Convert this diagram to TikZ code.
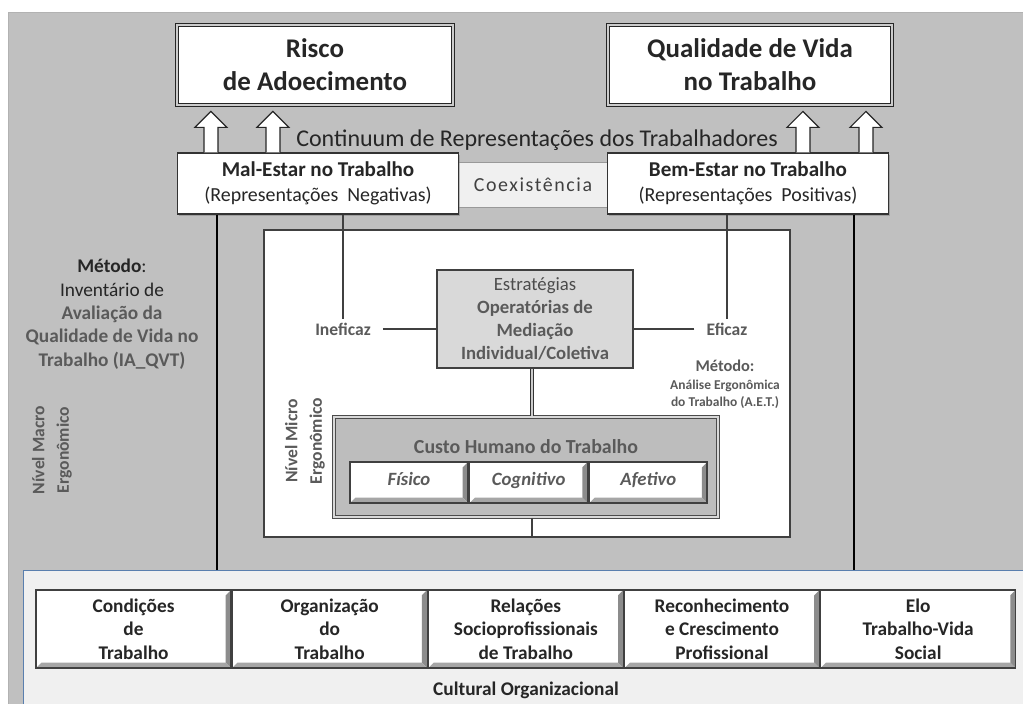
\documentclass[tikz,border=0pt]{standalone}
\usepackage{fontspec}
\setmainfont{Carlito}
\usepackage{tikz}
\usetikzlibrary{arrows.meta,positioning,calc,shadows}
\definecolor{QvtInk}{HTML}{262626}
\definecolor{QvtMuted}{HTML}{5A5A5A}
\definecolor{QvtBack}{HTML}{C0C0C0}
\definecolor{QvtPanel}{HTML}{F0F0F0}
\definecolor{QvtBlue}{HTML}{5A7FAE}
\definecolor{QvtFill}{HTML}{D9D9D9}
\definecolor{QvtCusto}{HTML}{BDBDBD}
\newdimen\pxu \pxu=0.3mm

\begin{document}
\begin{tikzpicture}[x=0.3mm,y=-0.3mm,every node/.style={text=QvtInk},
  goalbox/.style={draw=black!85,line width=1.2pt,double=black!20,double distance=1.6pt,fill=white,align=center,inner sep=0pt,minimum height=80\pxu,font=\fontsize{23}{28}\selectfont\bfseries},
  statebox/.style={draw=black!80,line width=1pt,fill=white,align=center,inner sep=0pt,minimum width=281\pxu,minimum height=61\pxu,font=\fontsize{17}{21}\selectfont,drop shadow={shadow xshift=1.5pt,shadow yshift=-1.5pt,fill=black!50}},
  uparrow/.pic={\draw[draw=black!85,fill=white,line width=1pt,line join=miter] (-7,0) -- (-7,-25) -- (-16,-25) -- (0,-41) -- (16,-25) -- (7,-25) -- (7,0);},
  fuzzy/.style={text=QvtMuted,font=\fontsize{15}{18}\selectfont\bfseries},
  bevel/.style={path picture={
    \fill[black!45] (path picture bounding box.north east) -- ++(-1.6mm,-1.6mm) -- ($(path picture bounding box.south east)+(-1.6mm,1.6mm)$) -- (path picture bounding box.south east) -- cycle;
    \fill[black!35] (path picture bounding box.south west) -- ++(1.6mm,1.6mm) -- ($(path picture bounding box.south east)+(-1.6mm,1.6mm)$) -- (path picture bounding box.south east) -- cycle;}},
  factorbox/.style={draw=black!75,line width=1pt,fill=white,bevel,align=center,inner sep=0pt,minimum width=195\pxu,minimum height=78\pxu,font=\fontsize{16.5}{20}\selectfont\bfseries},
  partbox/.style={draw=black!75,line width=1.4pt,fill=white,bevel,inner sep=0pt,minimum width=118\pxu,minimum height=41\pxu,text height=1.6ex,text depth=.4ex,text=QvtMuted,font=\fontsize{16}{19}\selectfont\bfseries\itshape},
  thickline/.style={draw=black,line width=2.3pt},
  thinline/.style={draw=black!75,line width=1.2pt}]
\useasboundingbox (0,0) rectangle (1023,704);
\fill[white] (0,0) rectangle (1023,704);
\fill[QvtBack] (8,12) rectangle (1023,704);
\draw[black!30] (8,704) -- (8,12) -- (1023,12);

\node[draw=QvtBlue,fill=QvtPanel,line width=0.8pt,minimum width=1004\pxu,minimum height=136\pxu,anchor=north west,inner sep=0pt] (cultura) at (23,570) {};
\node[font=\fontsize{16.5}{20}\selectfont\bfseries] (cultlabel) at (526,690) {Cultural Organizacional};

\node[goalbox,minimum width=276\pxu] (risco) at (315,65) {Risco\\de Adoecimento};
\node[goalbox,minimum width=284\pxu] (qvt) at (750,65) {Qualidade de Vida\\no Trabalho};
\node[font=\fontsize{20.5}{24}\selectfont] (cont) at (537,140) {Continuum de Representações dos Trabalhadores};

\node[draw=black!40,fill=QvtPanel,line width=0.8pt,minimum width=150\pxu,minimum height=45\pxu,inner sep=0pt,text=black!75,font=\fontsize{17}{20}\selectfont\addfontfeature{LetterSpace=8}] (coex) at (533,185) {Coexistência};
\node[statebox] (mal) at (318,183.5) {\textbf{\fontsize{18}{21}\selectfont Mal-Estar no Trabalho}\\(Representações\ \ Negativas)};
\node[statebox] (bem) at (748,183.5) {\textbf{\fontsize{18}{21}\selectfont Bem-Estar no Trabalho}\\(Representações\ \ Positivas)};

\pic at ($(mal.north west)+(34,0)$) {uparrow}; \pic at ($(mal.north west)+(96,0)$) {uparrow};
\pic at ($(bem.north west)+(196,0)$) {uparrow}; \pic at ($(bem.north west)+(259,0)$) {uparrow};

\node[draw=black!75,fill=white,line width=1.2pt,minimum width=526\pxu,minimum height=307\pxu,inner sep=0pt] (micro) at (527,383.5) {};

\node[align=center,anchor=north,font=\fontsize{16.5}{20}\selectfont] (metodoqvt) at (112,255) {\textbf{Método}:\\Inventário de\\{\bfseries\color{QvtMuted}Avaliação da}\\{\bfseries\color{QvtMuted}Qualidade de Vida no}\\{\bfseries\color{QvtMuted}Trabalho (IA\_QVT)}};
\node[rotate=90,align=center,text=QvtMuted,font=\fontsize{15}{21}\selectfont\bfseries] (macro) at (52,450) {Nível Macro\\Ergonômico};
\node[rotate=90,align=center,text=QvtMuted,font=\fontsize{15}{21}\selectfont\bfseries] (nivelmicro) at (305,441) {Nível Micro\\Ergonômico};

\coordinate (pl) at ($(mal.south west)+(40,0)$);
\coordinate (pr) at ($(bem.south east)+(-35,0)$);
\draw[thickline] (pl) -- (pl |- cultura.north);
\draw[thickline] (pr) -- (pr |- cultura.north);

\node[draw=black!75,fill=QvtFill,line width=1.2pt,minimum width=196\pxu,minimum height=98\pxu,inner sep=0pt,align=center,text=black!70,font=\fontsize{16}{19.5}\selectfont] (estr) at (535,319) {Estratégias\\{\bfseries\color{QvtMuted}Operatórias de}\\{\bfseries\color{QvtMuted}Mediação}\\{\bfseries\color{QvtMuted}Individual/Coletiva}};
\node[fuzzy] (inef) at (343,329) {Ineficaz};
\node[fuzzy] (efic) at (727,329) {Eficaz};
\node[align=center,anchor=north,text=QvtMuted,font=\fontsize{11.5}{15}\selectfont\bfseries] (metodoaet) at (725,356) {{\fontsize{14}{15}\selectfont Método:}\\Análise Ergonômica\\do Trabalho (A.E.T.)};

\draw[thinline] (inef.north |- mal.south) -- (inef.north);
\draw[thinline] (efic.north |- bem.south) -- (efic.north);
\draw[thinline,line width=1.6pt,shorten <=8\pxu] (inef) -- (inef -| estr.west);
\draw[thinline,line width=1.6pt,shorten <=8\pxu] (efic) -- (efic -| estr.east);

\node[draw=black!70,fill=QvtCusto,line width=1.4pt,double=black!15,double distance=1pt,minimum width=384\pxu,minimum height=100\pxu,inner sep=0pt] (custo) at (526,467) {};
\node[fuzzy,font=\fontsize{17}{20}\selectfont\bfseries] (custotitle) at (526,447) {Custo Humano do Trabalho};
\node[partbox] (fisico) at (409,482.5) {Físico};
\node[partbox,right=0pt of fisico] (cognitivo) {Cognitivo};
\node[partbox,right=0pt of cognitivo] (afetivo) {Afetivo};

\draw[draw=black!80,line width=1pt,double=black!20,double distance=1.2pt] (estr.south -| 532,0) -- (custo.north -| 532,0);
\draw[thinline,line width=1.8pt] (custo.south -| 532,0) -- (micro.south -| 532,0);

\node[factorbox] (cond) at (133.5,629) {Condições\\de\\Trabalho};
\node[factorbox,right=0pt of cond] (org) {Organização\\do\\Trabalho};
\node[factorbox,right=0pt of org] (rel) {Relações\\Socioprofissionais\\de Trabalho};
\node[factorbox,right=0pt of rel] (recon) {Reconhecimento\\e Crescimento\\Profissional};
\node[factorbox,right=0pt of recon] (elo) {Elo\\Trabalho-Vida\\Social};
\end{tikzpicture}
\end{document}
